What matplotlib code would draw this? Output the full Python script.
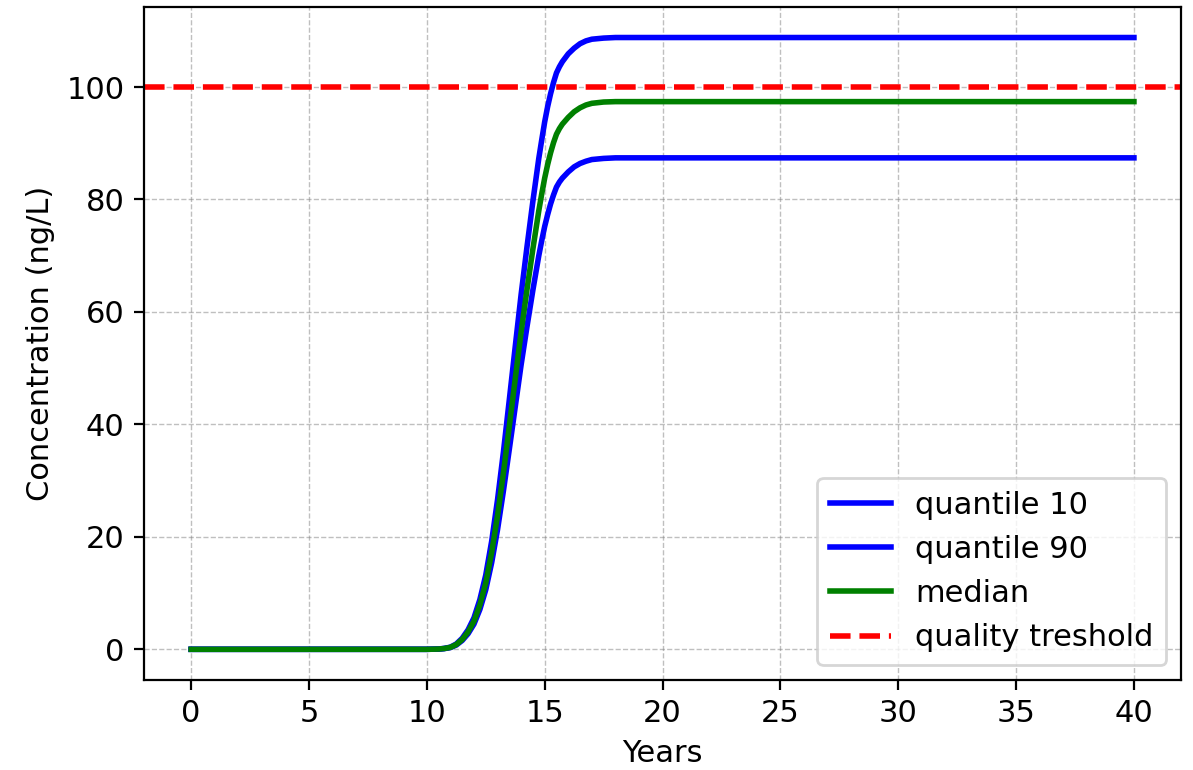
import matplotlib
matplotlib.use("Agg")
import matplotlib.pyplot as plt

# years and concentrations (ng/L)
years = [0, 10, 10.5, 10.75, 11, 11.25, 11.5, 11.75, 12, 12.25, 12.5, 12.75,
         13, 13.25, 13.5, 13.75, 14, 14.25, 14.5, 14.75, 14.875, 15, 15.125,
         15.25, 15.375, 15.5, 15.625, 15.75, 16, 16.25, 16.5, 16.75, 17, 17.5,
         18, 19, 20, 25, 30, 35, 40]

q10 = [0, 0, 0.04, 0.13, 0.31, 0.76, 1.57, 2.78, 4.49, 7.09, 10.6, 15.4,
       21.3, 28.2, 35.6, 43.1, 50.6, 57.4, 63.9, 70.0, 72.7, 75.2, 77.3,
       79.2, 80.8, 82.2, 83.1, 83.8, 84.9, 85.8, 86.4, 86.8, 87.1, 87.3,
       87.4, 87.4, 87.4, 87.4, 87.4, 87.4, 87.4]

q90 = [0, 0, 0.06, 0.17, 0.39, 0.95, 1.96, 3.47, 5.6, 8.84, 13.2, 19.2,
       26.6, 35.1, 44.4, 53.8, 63.1, 71.6, 79.7, 87.3, 90.6, 93.8, 96.5,
       98.8, 100.8, 102.5, 103.6, 104.5, 105.9, 106.9, 107.7, 108.2, 108.5,
       108.7, 108.8, 108.8, 108.8, 108.8, 108.8, 108.8, 108.8]

median = [0, 0, 0.05, 0.15, 0.35, 0.85, 1.75, 3.1, 5.0, 7.9, 11.8, 17.2,
          23.8, 31.4, 39.7, 48.1, 56.4, 64.0, 71.2, 78.0, 81.0, 83.8, 86.2,
          88.3, 90.1, 91.6, 92.6, 93.4, 94.6, 95.6, 96.3, 96.8, 97.1, 97.33,
          97.4, 97.4, 97.4, 97.4, 97.4, 97.4, 97.4]

threshold = 100

plt.rcParams['font.size'] = 11

fig = plt.figure(figsize=(5.965, 3.85), dpi=200)
ax = fig.add_subplot(111)
fig.subplots_adjust(left=0.1207, right=0.990, top=0.991, bottom=0.117)

ax.plot(years, q10, color='blue', lw=2, label='quantile 10')
ax.plot(years, q90, color='blue', lw=2, label='quantile 90')
ax.plot(years, median, color='green', lw=2, label='median')
ax.axhline(threshold, color='red', ls='--', lw=2, label='quality treshold')

ax.set_xlabel('Years')
ax.set_ylabel('Concentration (ng/L)')
ax.grid(True, ls='--', lw=0.5, color='gray', alpha=0.5)
ax.legend(loc='lower right')

fig.savefig('out.png', dpi=200)
